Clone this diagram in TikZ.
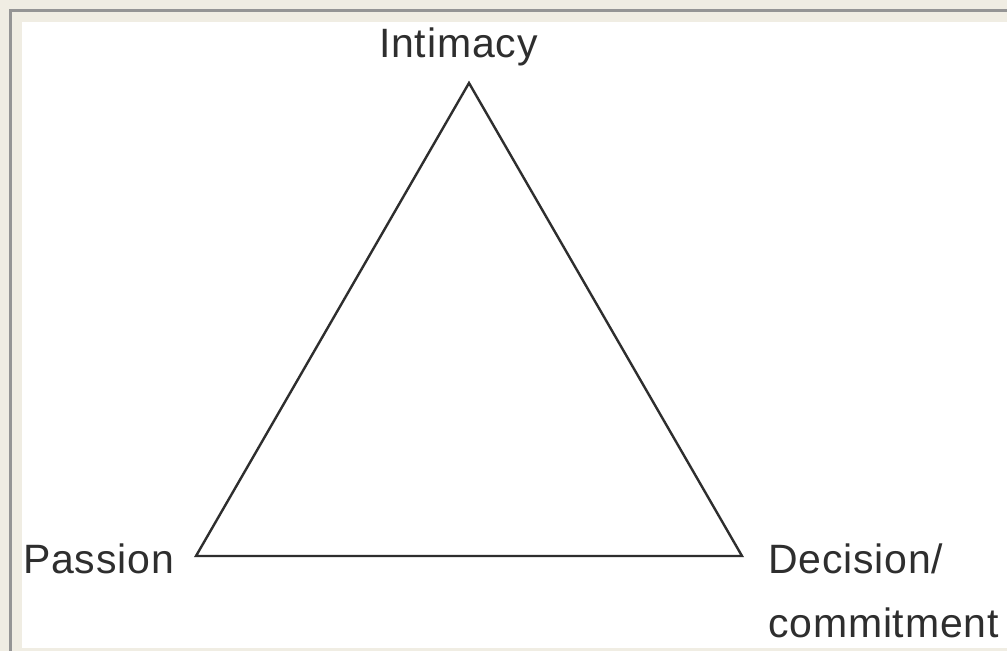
\documentclass[tikz,border=0pt]{standalone}
\usepackage{fontspec}
\setmainfont{Liberation Sans}[LetterSpace=2]
\definecolor{bg}{HTML}{F0EDE3}
\definecolor{rule}{HTML}{959595}
\definecolor{ink}{HTML}{2E2E2E}
\begin{document}
\begin{tikzpicture}[x=1pt,y=-1pt,
  lbl/.style={anchor=base west,inner sep=0pt,text=ink,font=\fontsize{41}{64}\selectfont},
  edge/.style={draw=ink,line width=2.4pt,line join=miter}]
\useasboundingbox (0,0) rectangle (1007,651);
\fill[bg] (0,0) rectangle (1007,651);
\fill[rule] (9,9) rectangle (12,651);
\fill[rule] (9,9) rectangle (1007,12);
\fill[white] (22,22) rectangle (1007,648);
\coordinate (top) at (469,83);
\coordinate (left) at (196,556);
\coordinate (right) at (742,556);
\draw[edge] (top) -- (right) -- (left) -- cycle;
\node[lbl] (intimacy) at (379,57) {Intimacy};
\node[lbl] (passion) at (23,573) {Passion};
\node[lbl] (decision) at (768,573) {Decision/};
\node[lbl] (commitment) at (768,637) {commitment};
\end{tikzpicture}
\end{document}
